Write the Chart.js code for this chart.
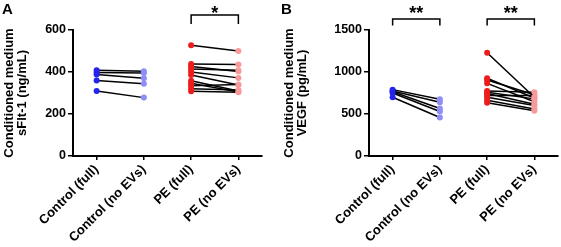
<!DOCTYPE html>
<html>
<head>
<meta charset="utf-8">
<script src="https://cdn.jsdelivr.net/npm/chart.js@4"></script>
<style>
  html, body { margin: 0; padding: 0; background: #fff; }
  #wrap { position: relative; width: 561px; height: 247px; font-family: "Liberation Sans", Arial, sans-serif; }
  #wrap canvas { position: absolute; top: 0; }
  .tag { position: absolute; top: 0px; font-weight: bold; font-size: 15px; color: #000; }
</style>
</head>
<body>
<div id="wrap">
  <canvas id="chartA" width="280" height="247" style="left:0"></canvas>
  <canvas id="chartB" width="281" height="247" style="left:280px"></canvas>
  <div class="tag" style="left:2px">A</div>
  <div class="tag" style="left:281px">B</div>
</div>
<script>
const categories = ['Control (full)', 'Control (no EVs)', 'PE (full)', 'PE (no EVs)'];

// sFlt-1 (ng/mL), one entry per donor
const sflt1CtrlFull  = [408, 398, 388, 360, 310];
const sflt1CtrlNoEVs = [403, 395, 370, 344, 278];
const sflt1PeFull    = [527, 438, 426, 414, 400, 386, 358, 346, 334, 320, 308];
const sflt1PeNoEVs   = [500, 436, 402, 408, 372, 338, 310, 305, 340, 314, 303];
const sflt1Ticks     = [0, 200, 400, 600];

// VEGF (pg/mL)
const vegfCtrlFull  = [790, 775, 765, 750, 700];
const vegfCtrlNoEVs = [675, 640, 565, 530, 458];
const vegfPeFull    = [1230, 925, 905, 865, 775, 760, 745, 720, 700, 665, 635];
const vegfPeNoEVs   = [700, 690, 730, 645, 760, 680, 615, 720, 600, 560, 540];
const vegfTicks     = [0, 500, 1000, 1500];

const sigA = [{ from: 2, to: 3, label: '*' }];
const sigB = [{ from: 0, to: 1, label: '**' }, { from: 2, to: 3, label: '**' }];

const BLUE = '#2424ee', LIGHTBLUE = '#8e8ef6', RED = '#ee1c1c', PINK = '#f89a9a';

Chart.defaults.font.family = "'Liberation Sans', Arial, sans-serif";
Chart.defaults.font.weight = 'bold';
Chart.defaults.color = '#000';

function pairs(full, noEVs, start) {
  return full.map((v, i) => {
    let data = [null, null, null, null];
    data[start] = v;
    data[start + 1] = noEVs[i];
    return {
      data: data,
      borderColor: '#000',
      borderWidth: 1.5,
      pointRadius: 3,
      pointBorderWidth: 0,
      pointBackgroundColor: [BLUE, LIGHTBLUE, RED, PINK],
      pointHoverRadius: 3
    };
  });
}

function bracketPlugin(brackets, topOffset, legLen) {
  return {
    id: 'brackets',
    afterDraw(chart) {
      const ctx = chart.ctx;
      const x = chart.scales.x;
      const top = chart.chartArea.top;
      ctx.save();
      ctx.strokeStyle = '#000';
      ctx.lineWidth = 1.5;
      ctx.fillStyle = '#000';
      ctx.font = "bold 18px 'Liberation Sans', Arial, sans-serif";
      ctx.textAlign = 'center';
      ctx.textBaseline = 'alphabetic';
      brackets.forEach(b => {
        const x1 = x.getPixelForValue(b.from), x2 = x.getPixelForValue(b.to);
        const yTop = top - topOffset;
        ctx.beginPath();
        ctx.moveTo(x1, yTop + legLen);
        ctx.lineTo(x1, yTop);
        ctx.lineTo(x2, yTop);
        ctx.lineTo(x2, yTop + legLen);
        ctx.stroke();
        ctx.fillText(b.label, (x1 + x2) / 2, top - 11);
      });
      ctx.restore();
    }
  };
}

function makeChart(id, datasets, ticks, title, axisWidth, padRight, brackets, bOffset, bLeg) {
  let ctx = document.getElementById(id).getContext('2d');
  return new Chart(ctx, {
    type: 'line',
    data: { labels: categories, datasets: datasets },
    options: {
      responsive: false,
      animation: false,
      layout: { padding: { top: 30, right: padRight, left: 0, bottom: 0 } },
      plugins: { legend: { display: false }, tooltip: { enabled: false } },
      scales: {
        x: {
          offset: true,
          grid: { display: true, drawOnChartArea: false, drawTicks: true, tickLength: 4, color: '#000', lineWidth: 1.5, offset: false },
          border: { display: true, color: '#000', width: 2 },
          ticks: { autoSkip: false, minRotation: 45, maxRotation: 45, padding: 2, font: { size: 13, weight: 'bold' } },
          afterFit: s => { s.height = 91; }
        },
        y: {
          min: ticks[0],
          max: ticks[ticks.length - 1],
          grid: { display: true, drawOnChartArea: false, drawTicks: true, tickLength: 5, color: '#000', lineWidth: 1.5 },
          border: { display: true, color: '#000', width: 2 },
          ticks: { padding: 2, font: { size: 12.5, weight: 'bold' }, callback: v => String(v) },
          afterBuildTicks: s => { s.ticks = ticks.map(v => ({ value: v })); },
          title: { display: true, text: title, font: { size: 13, weight: 'bold', lineHeight: 1 }, padding: { top: 3, bottom: 0 } },
          afterFit: s => { s.width = axisWidth; }
        }
      }
    },
    plugins: [bracketPlugin(brackets, bOffset, bLeg)]
  });
}

makeChart('chartA',
  pairs(sflt1CtrlFull, sflt1CtrlNoEVs, 0).concat(pairs(sflt1PeFull, sflt1PeNoEVs, 2)),
  sflt1Ticks, ['Conditioned medium', 'sFlt-1 (ng/mL)'], 73, 18, sigA, 15, 9);

makeChart('chartB',
  pairs(vegfCtrlFull, vegfCtrlNoEVs, 0).concat(pairs(vegfPeFull, vegfPeNoEVs, 2)),
  vegfTicks, ['Conditioned medium', 'VEGF (pg/mL)'], 89, 1, sigB, 11, 6.5);
</script>
</body>
</html>
